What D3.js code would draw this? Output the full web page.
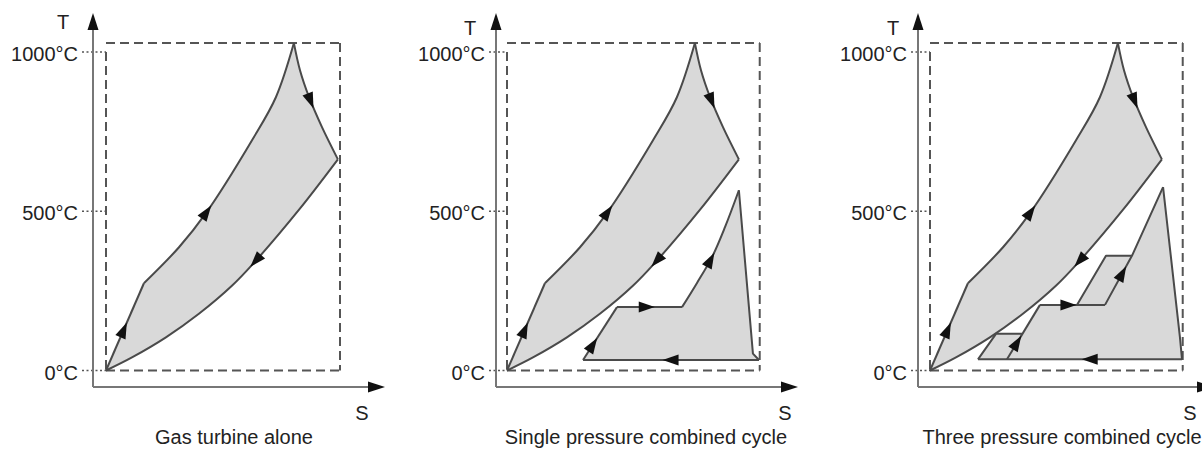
<!DOCTYPE html>
<html>
<head>
<meta charset="utf-8">
<script src="https://cdn.jsdelivr.net/npm/d3@7"></script>
<style>
  body { margin: 0; background: #fff; }
  text { font-family: "Liberation Sans", Arial, sans-serif; fill: #222; }
</style>
</head>
<body>
<svg id="chart"></svg>
<script>
const WIDTH = 1202;
const HEIGHT = 450;

// temperature ticks on the T axis
const tempTicks = [0, 500, 1000];
const tickLabels = ['0°C', '500°C', '1000°C'];
const panelTitles = ['Gas turbine alone', 'Single pressure combined cycle', 'Three pressure combined cycle'];

// gas turbine (Brayton) cycle, [S, T°C]
const gasCompression = [[0, 0], [16.2, 274]];
const gasCombustion = [[16.2, 274], [31.2, 387], [42.7, 494], [62.4, 723], [72.6, 858], [80.3, 1028]];
const gasExpansion = [[80.3, 1028], [82.9, 943], [86.8, 858], [92.3, 764], [99.1, 663]];
const gasCooling = [[99.1, 663], [82.5, 505], [63.2, 338], [53.8, 266], [39.7, 178], [25.6, 104], [11.1, 41], [0, 0]];

// single pressure steam cycle
const spHeating = [[32.5, 33], [47.0, 199]];
const spBoiling = [[47.0, 199], [74.8, 199]];
const spSuperheat = [[74.8, 199], [81.2, 275], [87.6, 356], [93.2, 451], [99.1, 566]];
const spExpansion = [[99.1, 566], [105.1, 53], [107.7, 33]];
const spCondense = [[107.7, 33], [32.5, 33]];

// three pressure steam cycle
const tpOutline = [[20.5, 35], [28.2, 115], [39.3, 115], [47.0, 206], [62.8, 206], [75.2, 360],
                   [86.3, 360], [99.6, 576], [106.8, 105], [107.7, 35]];
const tpLowPressure = [[20.5, 35], [28.2, 115], [39.3, 115]];
const tpLowRise = [[32.9, 35], [47.0, 206]];
const tpInterBoil = [[47.0, 206], [74.8, 206]];
const tpHighPressure = [[62.8, 206], [75.2, 360], [86.3, 360]];
const tpHighRise = [[74.8, 206], [86.3, 360], [99.6, 576]];
const tpExpansion = [[99.6, 576], [106.8, 105], [107.7, 35]];
const tpCondense = [[107.7, 35], [20.5, 35]];

const FILL = '#d9d9d9';
const LINE = '#4a4a4a';
const DARK = '#111';

const PANELS = [
  {x0: 106, axisX: 93, axisEnd: 385, rectS: 100, titleX: 234, sLabelX: 362, tLabelX: 63, tLabelY: 29, tickRight: 78},
  {x0: 507, axisX: 496, axisEnd: 798, rectS: 108, titleX: 646, sLabelX: 785, tLabelX: 470, tLabelY: 35, tickRight: 485},
  {x0: 930, axisX: 918, axisEnd: 1214, rectS: 108, titleX: 1062, sLabelX: 1190, tLabelX: 893, tLabelY: 35, tickRight: 907}
];
const AXIS_Y = 387;
const AXIS_TOP = 13;

const svg = d3.select('#chart').attr('width', WIDTH).attr('height', HEIGHT);

const tScale = d3.scaleLinear().domain([0, 1000]).range([370.5, 52]);
const tMax = d3.max(gasCombustion, d => d[1]);

const gasSegs = [
  {pts: gasCompression, curve: false, arrow: 0.46},
  {pts: gasCombustion, curve: true, arrow: 0.33},
  {pts: gasExpansion, curve: true, arrow: 0.48},
  {pts: gasCooling, curve: true, arrow: 0.41}
];
const singleSegs = [
  {pts: spHeating, curve: false, arrow: 0.28},
  {pts: spBoiling, curve: false, arrow: 0.45},
  {pts: spSuperheat, curve: true, arrow: 0.42},
  {pts: spExpansion, curve: false, arrow: null},
  {pts: spCondense, curve: false, arrow: 0.5}
];
const threeFill = [{pts: tpOutline, curve: false}];
const threeLines = [
  {pts: tpLowPressure, curve: false, arrow: null},
  {pts: tpLowRise, curve: false, arrow: 0.3},
  {pts: tpInterBoil, curve: false, arrow: 0.43},
  {pts: tpHighPressure, curve: false, arrow: null},
  {pts: tpHighRise, curve: false, arrow: 0.27},
  {pts: tpExpansion, curve: false, arrow: null},
  {pts: tpCondense, curve: false, arrow: 0.45}
];

const steams = [null, {fill: singleSegs, lines: singleSegs}, {fill: threeFill, lines: threeLines}];

function segPath(seg, sx) {
  const line = d3.line()
    .x(d => sx(d[0]))
    .y(d => tScale(d[1]))
    .curve(seg.curve ? d3.curveCatmullRom.alpha(0.5) : d3.curveLinear);
  return line(seg.pts);
}

// join segments into one closed outline for the fill
function joinSegs(segs, sx) {
  return segs.map((s, i) => {
    const d = segPath(s, sx);
    return i === 0 ? d : 'L' + d.slice(1);
  }).join('') + 'Z';
}

function addArrow(g, node, t) {
  const len = node.getTotalLength();
  const at = t * len;
  const p = node.getPointAtLength(at);
  const a = node.getPointAtLength(Math.max(0, at - 2));
  const b = node.getPointAtLength(Math.min(len, at + 2));
  const ang = Math.atan2(b.y - a.y, b.x - a.x) * 180 / Math.PI;
  g.append('path')
    .attr('d', 'M8.5,0L-7.5,-5.5L-7.5,5.5Z')
    .attr('fill', DARK)
    .attr('transform', `translate(${p.x},${p.y}) rotate(${ang})`);
}

function drawShape(g, sx, fillSegs, lineSegs) {
  g.append('path')
    .attr('d', joinSegs(fillSegs, sx))
    .attr('fill', FILL)
    .attr('stroke', 'none');
  lineSegs.forEach(seg => {
    const p = g.append('path')
      .attr('d', segPath(seg, sx))
      .attr('fill', 'none')
      .attr('stroke', LINE)
      .attr('stroke-width', 2)
      .attr('stroke-linejoin', 'round');
    if (seg.arrow != null) addArrow(g, p.node(), seg.arrow);
  });
}

PANELS.forEach((pn, i) => {
  const g = svg.append('g');
  const sx = d3.scaleLinear().domain([0, 100]).range([pn.x0, pn.x0 + 234]);
  const right = sx(pn.rectS);

  // dashed envelope
  const dashed = [
    [pn.x0, tScale(tMax), right, tScale(tMax)],
    [right, tScale(tMax), right, tScale(0)],
    [pn.x0, tScale(0), right, tScale(0)],
    [pn.x0, tScale(1000), pn.x0, tScale(0)]
  ];
  g.selectAll('line.dash').data(dashed).enter().append('line')
    .attr('x1', d => d[0]).attr('y1', d => d[1])
    .attr('x2', d => d[2]).attr('y2', d => d[3])
    .attr('stroke', '#555').attr('stroke-width', 2)
    .attr('stroke-dasharray', '9,5');

  // dotted tick leaders
  g.selectAll('line.tick').data(tempTicks).enter().append('line')
    .attr('x1', pn.tickRight + 4).attr('x2', pn.x0)
    .attr('y1', d => tScale(d)).attr('y2', d => tScale(d))
    .attr('stroke', '#555').attr('stroke-width', 1.6)
    .attr('stroke-dasharray', '2,2.5');

  g.selectAll('text.tick').data(tempTicks).enter().append('text')
    .attr('x', pn.tickRight)
    .attr('y', d => tScale(d) + 2)
    .attr('dy', '0.35em')
    .attr('text-anchor', 'end')
    .style('font-size', '20px')
    .text((d, k) => tickLabels[k]);

  // axes
  g.append('line')
    .attr('x1', pn.axisX).attr('y1', AXIS_Y).attr('x2', pn.axisX).attr('y2', AXIS_TOP + 14)
    .attr('stroke', '#777').attr('stroke-width', 2);
  g.append('line')
    .attr('x1', pn.axisX).attr('y1', AXIS_Y).attr('x2', pn.axisEnd - 14).attr('y2', AXIS_Y)
    .attr('stroke', '#777').attr('stroke-width', 2);
  g.append('path')
    .attr('d', `M${pn.axisX},${AXIS_TOP}L${pn.axisX - 5.5},${AXIS_TOP + 17}L${pn.axisX + 5.5},${AXIS_TOP + 17}Z`)
    .attr('fill', DARK);
  g.append('path')
    .attr('d', `M${pn.axisEnd},${AXIS_Y}L${pn.axisEnd - 17},${AXIS_Y - 5.5}L${pn.axisEnd - 17},${AXIS_Y + 5.5}Z`)
    .attr('fill', DARK);

  g.append('text').attr('x', pn.tLabelX).attr('y', pn.tLabelY)
    .attr('text-anchor', 'middle').style('font-size', '20px').text('T');
  g.append('text').attr('x', pn.sLabelX).attr('y', 420)
    .attr('text-anchor', 'middle').style('font-size', '20px').text('S');
  g.append('text').attr('x', pn.titleX).attr('y', 444)
    .attr('text-anchor', 'middle').style('font-size', '20px').text(panelTitles[i]);

  // cycles
  drawShape(g, sx, gasSegs, gasSegs);
  if (steams[i]) drawShape(g, sx, steams[i].fill, steams[i].lines);
});
</script>
</body>
</html>
